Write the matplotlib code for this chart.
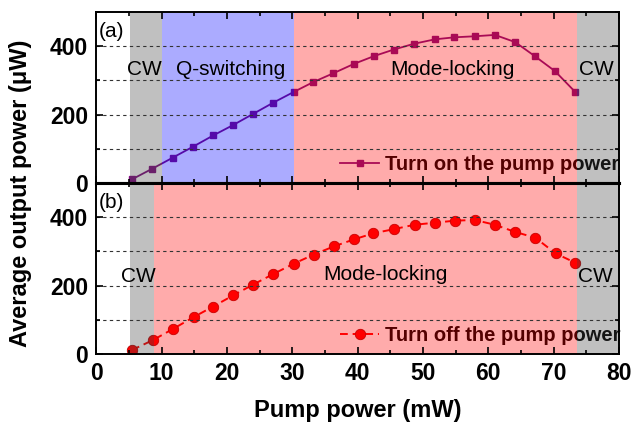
import matplotlib
matplotlib.use("Agg")
import matplotlib.pyplot as plt
from matplotlib.ticker import MultipleLocator

plt.rcParams['font.family'] = ['Liberation Sans', 'DejaVu Sans']

# pump power (mW) and output power (uW)
pump_on = [5.5, 8.6, 11.7, 14.8, 17.9, 21.0, 24.0, 27.1, 30.2, 33.2, 36.3, 39.4,
           42.5, 45.5, 48.6, 51.8, 54.8, 57.9, 61.0, 64.1, 67.1, 70.2, 73.3]
power_on = [11, 42, 74, 106, 139, 170, 202, 235, 266, 295, 321, 348,
            371, 390, 407, 420, 426, 429, 433, 412, 371, 327, 266]

pump_off = [5.5, 8.7, 11.8, 14.9, 17.9, 21.0, 24.0, 27.1, 30.2, 33.3, 36.4, 39.4,
            42.4, 45.5, 48.7, 51.8, 54.9, 57.9, 61.0, 64.1, 67.2, 70.3, 73.3]
power_off = [12, 41, 74, 108, 139, 172, 203, 234, 264, 291, 315, 335,
             353, 365, 378, 384, 390, 392, 378, 357, 340, 294, 267]

# operating regimes: (start, end, colour)
regions_on = [(5.1, 10.0, '#404040'), (10.0, 30.3, '#0000ff'),
              (30.3, 73.6, '#ff0000'), (73.6, 80.0, '#404040')]
regions_off = [(5.2, 8.9, '#404040'), (8.9, 73.6, '#ff0000'),
               (73.6, 80.0, '#404040')]

labels_on = [('CW', 7.3, 332), ('Q-switching', 20.6, 332),
             ('Mode-locking', 54.5, 332), ('CW', 76.6, 332)]
labels_off = [('CW', 6.4, 227), ('Mode-locking', 44.3, 232), ('CW', 76.4, 227)]

fig = plt.figure(figsize=(6.33, 4.24), dpi=100)
ax1 = fig.add_axes([0.152, 0.5684, 0.826, 0.4033])
ax2 = fig.add_axes([0.152, 0.165, 0.826, 0.4033])


def style(ax, regions, labels, tag):
    for a, b, c in regions:
        ax.axvspan(a, b, color=c, alpha=0.33, lw=0, zorder=6)
    for y in [100, 200, 300, 400]:
        ax.axhline(y, color='#333333', lw=0.8, ls=(0, (3, 3)), zorder=7)
    for s, x, y in labels:
        ax.text(x, y, s, fontsize=15, ha='center', va='center', zorder=8)
    ax.text(2.4, 442, tag, fontsize=15, ha='center', va='center', zorder=8)
    ax.set_xlim(0, 80)
    ax.set_ylim(0, 500)
    ax.xaxis.set_major_locator(MultipleLocator(10))
    ax.xaxis.set_minor_locator(MultipleLocator(5))
    ax.yaxis.set_major_locator(MultipleLocator(200))
    ax.yaxis.set_minor_locator(MultipleLocator(100))
    ax.tick_params(which='both', direction='in', top=True, right=True,
                   labelsize=16.5, width=1.2)
    ax.tick_params(which='major', length=5, pad=6)
    ax.tick_params(which='minor', length=3)
    for lab in ax.get_xticklabels() + ax.get_yticklabels():
        lab.set_fontweight('bold')
    ax.xaxis.set_zorder(9)
    ax.yaxis.set_zorder(9)
    for sp in ax.spines.values():
        sp.set_linewidth(1.4)
        sp.set_zorder(9)


style(ax1, regions_on, labels_on, '(a)')
style(ax2, regions_off, labels_off, '(b)')

ax1.plot(pump_on, power_on, '-s', color='#80107f', lw=1.3, ms=5,
         label='Turn on the pump power', zorder=3)
ax2.plot(pump_off, power_off, '--o', color='#ff0000', lw=1.4, ms=7.5,
         mec='#b00000', mew=0.6, dashes=(4, 2.5),
         label='Turn off the pump power', zorder=3)

for ax in (ax1, ax2):
    leg = ax.legend(loc='center left', bbox_to_anchor=(0.467, 0.106),
                    frameon=False, borderpad=0, borderaxespad=0,
                    handlelength=1.9, handletextpad=0.3,
                    prop={'weight': 'bold', 'size': 14.5})
    leg.set_zorder(5)

ax1.tick_params(axis='x', labelbottom=False)
ax1.spines['bottom'].set_linewidth(2.2)
ax2.spines['top'].set_linewidth(2.2)

ax2.set_xlabel('Pump power (mW)', fontsize=17, fontweight='bold', labelpad=10)
fig.text(0.032, 0.545, 'Average output power (μW)', rotation=90,
         fontsize=17, fontweight='bold', ha='center', va='center')

fig.savefig('out.png', dpi=100)
